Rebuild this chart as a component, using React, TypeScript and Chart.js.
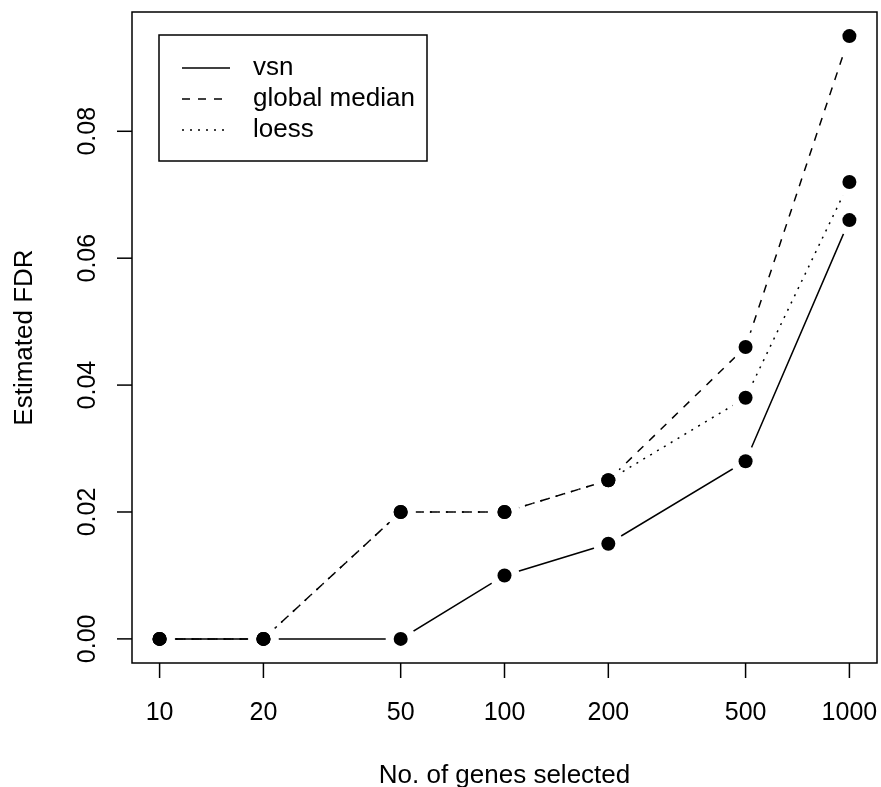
import React, { useEffect, useRef } from "react";
import { Chart, registerables } from "chart.js";

Chart.register(...registerables);

// ---- data ----
const genes = [10, 20, 50, 100, 200, 500, 1000];
const vsn = [0, 0, 0, 0.01, 0.015, 0.028, 0.066];
const globalMedian = [0, 0, 0.02, 0.02, 0.025, 0.046, 0.095];
const loess = [0, 0, 0.02, 0.02, 0.025, 0.038, 0.072];
const seriesNames = ["vsn", "global median", "loess"];
const xTickValues = [10, 20, 50, 100, 200, 500, 1000];
const xTickLabels = ["10", "20", "50", "100", "200", "500", "1000"];
const yTickValues = [0, 0.02, 0.04, 0.06, 0.08];
const yTickLabels = ["0.00", "0.02", "0.04", "0.06", "0.08"];
const xTitle = "No. of genes selected";
const yTitle = "Estimated FDR";

// ---- styles ----
const dashes: number[][] = [[], [8, 8], [2, 6]];
const FAMILY = '"Liberation Sans", Arial, Helvetica, sans-serif';
const TICK_FONT = "25px " + FAMILY;
const TEXT_FONT = "26px " + FAMILY;

const allSeries = [vsn, globalMedian, loess];

function pts(vals: number[]) {
  return genes.map((g, i) => ({ x: g, y: vals[i] }));
}

const rFrame = {
  id: "rFrame",
  afterDraw(chart: any) {
    const { ctx, chartArea: a, scales } = chart;
    const xs = scales.x;
    const ys = scales.y;
    ctx.save();
    ctx.strokeStyle = "#000";
    ctx.fillStyle = "#000";
    ctx.lineWidth = 1.5;
    ctx.setLineDash([]);
    ctx.strokeRect(a.left, a.top, a.right - a.left, a.bottom - a.top);

    // x axis ticks
    ctx.font = TICK_FONT;
    ctx.textAlign = "center";
    ctx.textBaseline = "alphabetic";
    xTickValues.forEach((v, i) => {
      const px = xs.getPixelForValue(v);
      ctx.beginPath();
      ctx.moveTo(px, a.bottom);
      ctx.lineTo(px, a.bottom + 15);
      ctx.stroke();
      ctx.fillText(xTickLabels[i], px, a.bottom + 57);
    });

    // y axis ticks
    yTickValues.forEach((v, i) => {
      const py = ys.getPixelForValue(v);
      ctx.beginPath();
      ctx.moveTo(a.left - 15, py);
      ctx.lineTo(a.left, py);
      ctx.stroke();
      ctx.save();
      ctx.translate(a.left - 37, py);
      ctx.rotate(-Math.PI / 2);
      ctx.fillText(yTickLabels[i], 0, 0);
      ctx.restore();
    });

    // titles
    ctx.font = TEXT_FONT;
    ctx.fillText(xTitle, (a.left + a.right) / 2, a.bottom + 120);
    ctx.save();
    ctx.translate(32, (a.top + a.bottom) / 2);
    ctx.rotate(-Math.PI / 2);
    ctx.fillText(yTitle, 0, 0);
    ctx.restore();

    // legend
    const lx = 159, ly = 35, lw = 268, lh = 126;
    ctx.strokeRect(lx, ly, lw, lh);
    const rows = [68, 99, 130];
    ctx.textAlign = "left";
    seriesNames.forEach((name, i) => {
      ctx.setLineDash(dashes[i]);
      ctx.beginPath();
      ctx.moveTo(182, rows[i]);
      ctx.lineTo(230, rows[i]);
      ctx.stroke();
      ctx.setLineDash([]);
      ctx.fillText(name, 253, rows[i] + 7);
    });
    ctx.restore();
  },
};

export default function App() {
  const ref = useRef<HTMLCanvasElement | null>(null);

  useEffect(() => {
    if (!ref.current) return;
    const xr = Math.log10(genes[genes.length - 1]) - Math.log10(genes[0]);
    const xmin = Math.pow(10, Math.log10(genes[0]) - 0.04 * xr);
    const xmax = Math.pow(10, Math.log10(genes[genes.length - 1]) + 0.04 * xr);
    const allVals = [...vsn, ...globalMedian, ...loess];
    const lo = Math.min(...allVals);
    const hi = Math.max(...allVals);
    const ymin = lo - 0.04 * (hi - lo);
    const ymax = hi + 0.04 * (hi - lo);

    const lineSets = allSeries.map((s, i) => ({
      label: seriesNames[i],
      data: pts(s),
      borderColor: "#000",
      borderWidth: 1.5,
      borderDash: dashes[i],
      pointRadius: 0,
      fill: false,
      tension: 0,
      order: 3,
    }));
    const maskSets = allSeries.map((s, i) => ({
      label: seriesNames[i] + " gap",
      data: pts(s),
      showLine: false,
      pointRadius: 15,
      pointBackgroundColor: "#fff",
      pointBorderWidth: 0,
      pointBorderColor: "#fff",
      order: 2,
    }));
    const pointSets = allSeries.map((s, i) => ({
      label: seriesNames[i] + " points",
      data: pts(s),
      showLine: false,
      pointRadius: 7,
      pointBackgroundColor: "#000",
      pointBorderWidth: 0,
      pointBorderColor: "#000",
      order: 1,
    }));

    const chart = new Chart(ref.current, {
      type: "line",
      data: { datasets: [...lineSets, ...maskSets, ...pointSets] as any },
      options: {
        responsive: false,
        animation: false,
        devicePixelRatio: 1,
        layout: { autoPadding: false, padding: { left: 132, top: 12, right: 4, bottom: 124 } },
        plugins: { legend: { display: false }, tooltip: { enabled: false } },
        scales: {
          x: { type: "logarithmic", min: xmin, max: xmax, display: false },
          y: { type: "linear", min: ymin, max: ymax, display: false },
        },
      },
      plugins: [rFrame],
    });
    return () => chart.destroy();
  }, []);

  return (
    <div style={{ position: "absolute", left: 0, top: 0, width: 881, height: 787, background: "#fff" }}>
      <canvas ref={ref} width={881} height={787} style={{ display: "block" }} />
    </div>
  );
}
